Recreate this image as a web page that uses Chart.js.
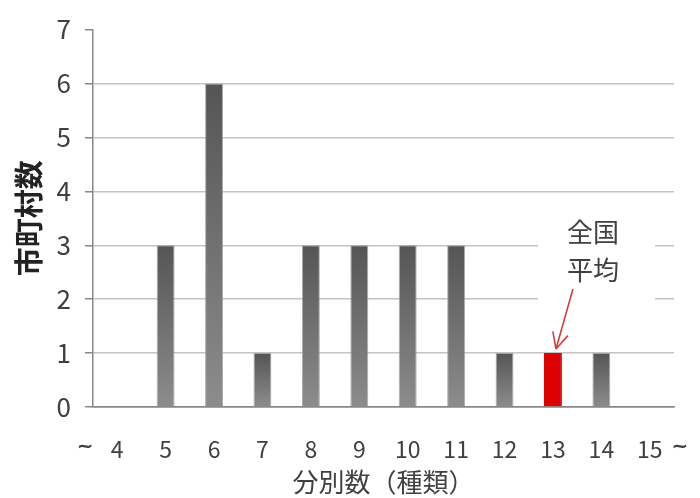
<!DOCTYPE html>
<html>
<head>
<meta charset="utf-8">
<script src="https://cdn.jsdelivr.net/npm/chart.js@4.4.0/dist/chart.umd.min.js"></script>
<style>
  html,body{margin:0;padding:0;background:#fff;}
  #wrap{width:700px;height:498px;}
</style>
</head>
<body>
<div id="wrap"><canvas id="c" width="700" height="498"></canvas></div>
<script>
// 分別数ごとの市町村数
const categories = ['4','5','6','7','8','9','10','11','12','13','14','15'];
const counts     = [0, 3, 6, 1, 3, 3, 3, 3, 1, 1, 1, 0];
const highlight  = '13';            // 全国平均
const yTicks     = [0,1,2,3,4,5,6,7];
const noteLines  = ['全国','平均'];

const FONT = '"Noto Sans CJK JP", "Noto Sans", sans-serif';
const TXT = '#404040';

function barFill(ctx){
  const chart = ctx.chart;
  if(categories[ctx.dataIndex]===highlight) return '#dd0000';
  const y = chart.scales && chart.scales.y;
  if(!chart.chartArea || !y) return '#666';
  const top = y.getPixelForValue(ctx.raw), bot = y.getPixelForValue(0);
  if(bot-top < 1) return '#666';
  const g = chart.ctx.createLinearGradient(0, top, 0, bot);
  g.addColorStop(0, '#555555');
  g.addColorStop(1, '#8c8c8c');
  return g;
}

// 横軸端の「～」と 全国平均 の注記
const extras = {
  id:'extras',
  afterDraw(chart){
    const {ctx, scales:{x,y}} = chart;
    ctx.save();
    ctx.fillStyle = TXT;
    ctx.font = 'bold 20px "DejaVu Sans", sans-serif';
    ctx.textAlign = 'center';
    ctx.textBaseline = 'middle';
    const ty = x.top + 40;
    ctx.fillText('~', x.getPixelForValue(0) - 32, ty);
    ctx.fillText('~', x.getPixelForValue(categories.length-1) + 30, ty);

    const hi = categories.indexOf(highlight);
    const bx = x.getPixelForValue(hi), by = y.getPixelForValue(counts[hi]);
    // 白地
    ctx.fillStyle = '#fff';
    ctx.fillRect(bx - 15, by - 137, 117, 90);
    ctx.fillStyle = TXT;
    ctx.font = '26px ' + FONT;
    noteLines.forEach((t,i)=> ctx.fillText(t, bx + 40, by - 121 + i*38));
    // 矢印
    const sx = bx + 20, sy = by - 64, ex = bx + 3, ey = by - 4;
    ctx.strokeStyle = '#d04040';
    ctx.lineWidth = 1.6;
    ctx.beginPath();
    ctx.moveTo(sx, sy); ctx.lineTo(ex, ey);
    const ang = Math.atan2(ey-sy, ex-sx);
    [0.45,-0.45].forEach(d=>{
      ctx.moveTo(ex, ey);
      ctx.lineTo(ex - 18*Math.cos(ang+d), ey - 18*Math.sin(ang+d));
    });
    ctx.stroke();
    ctx.restore();
  }
};

new Chart(document.getElementById('c'), {
  type:'bar',
  data:{
    labels:categories,
    datasets:[{
      data:counts,
      backgroundColor:barFill,
      borderColor:ctx=> categories[ctx.dataIndex]===highlight ? '#dd0000' : 'rgba(150,150,150,0.8)',
      borderWidth:1,
      barPercentage:0.37,
      categoryPercentage:1
    }]
  },
  options:{
    responsive:false,
    animation:false,
    layout:{padding:{left:12, top:19, right:26, bottom:0}},
    plugins:{legend:{display:false}, tooltip:{enabled:false}},
    scales:{
      x:{
        grid:{display:false},
        border:{color:'#888', width:1.5},
        ticks:{color:TXT, font:{family:FONT, size:23}, padding:20, maxRotation:0, autoSkip:false},
        title:{display:true, text:'分別数（種類）', color:TXT, font:{family:FONT, size:26}, padding:{top:0,bottom:0}},
        afterFit:s=>{ s.height = 91; }
      },
      y:{
        min:0, max:7,
        afterBuildTicks:s=>{ s.ticks = yTicks.map(v=>({value:v})); },
        grid:{
          color:c=> c.tick.value===7 ? 'rgba(0,0,0,0)' : (c.tick.value===0 ? '#888' : '#c4c4c4'),
          tickColor:'#888', tickLength:8, lineWidth:1.5
        },
        border:{color:'#888', width:1.5},
        ticks:{color:TXT, font:{family:FONT, size:26}, padding:14},
        title:{display:true, text:'市町村数', color:'#222', font:{family:FONT, size:29, weight:'bold'}, padding:0},
        afterFit:s=>{ s.width = 81; }
      }
    }
  },
  plugins:[extras]
});
</script>
</body>
</html>
